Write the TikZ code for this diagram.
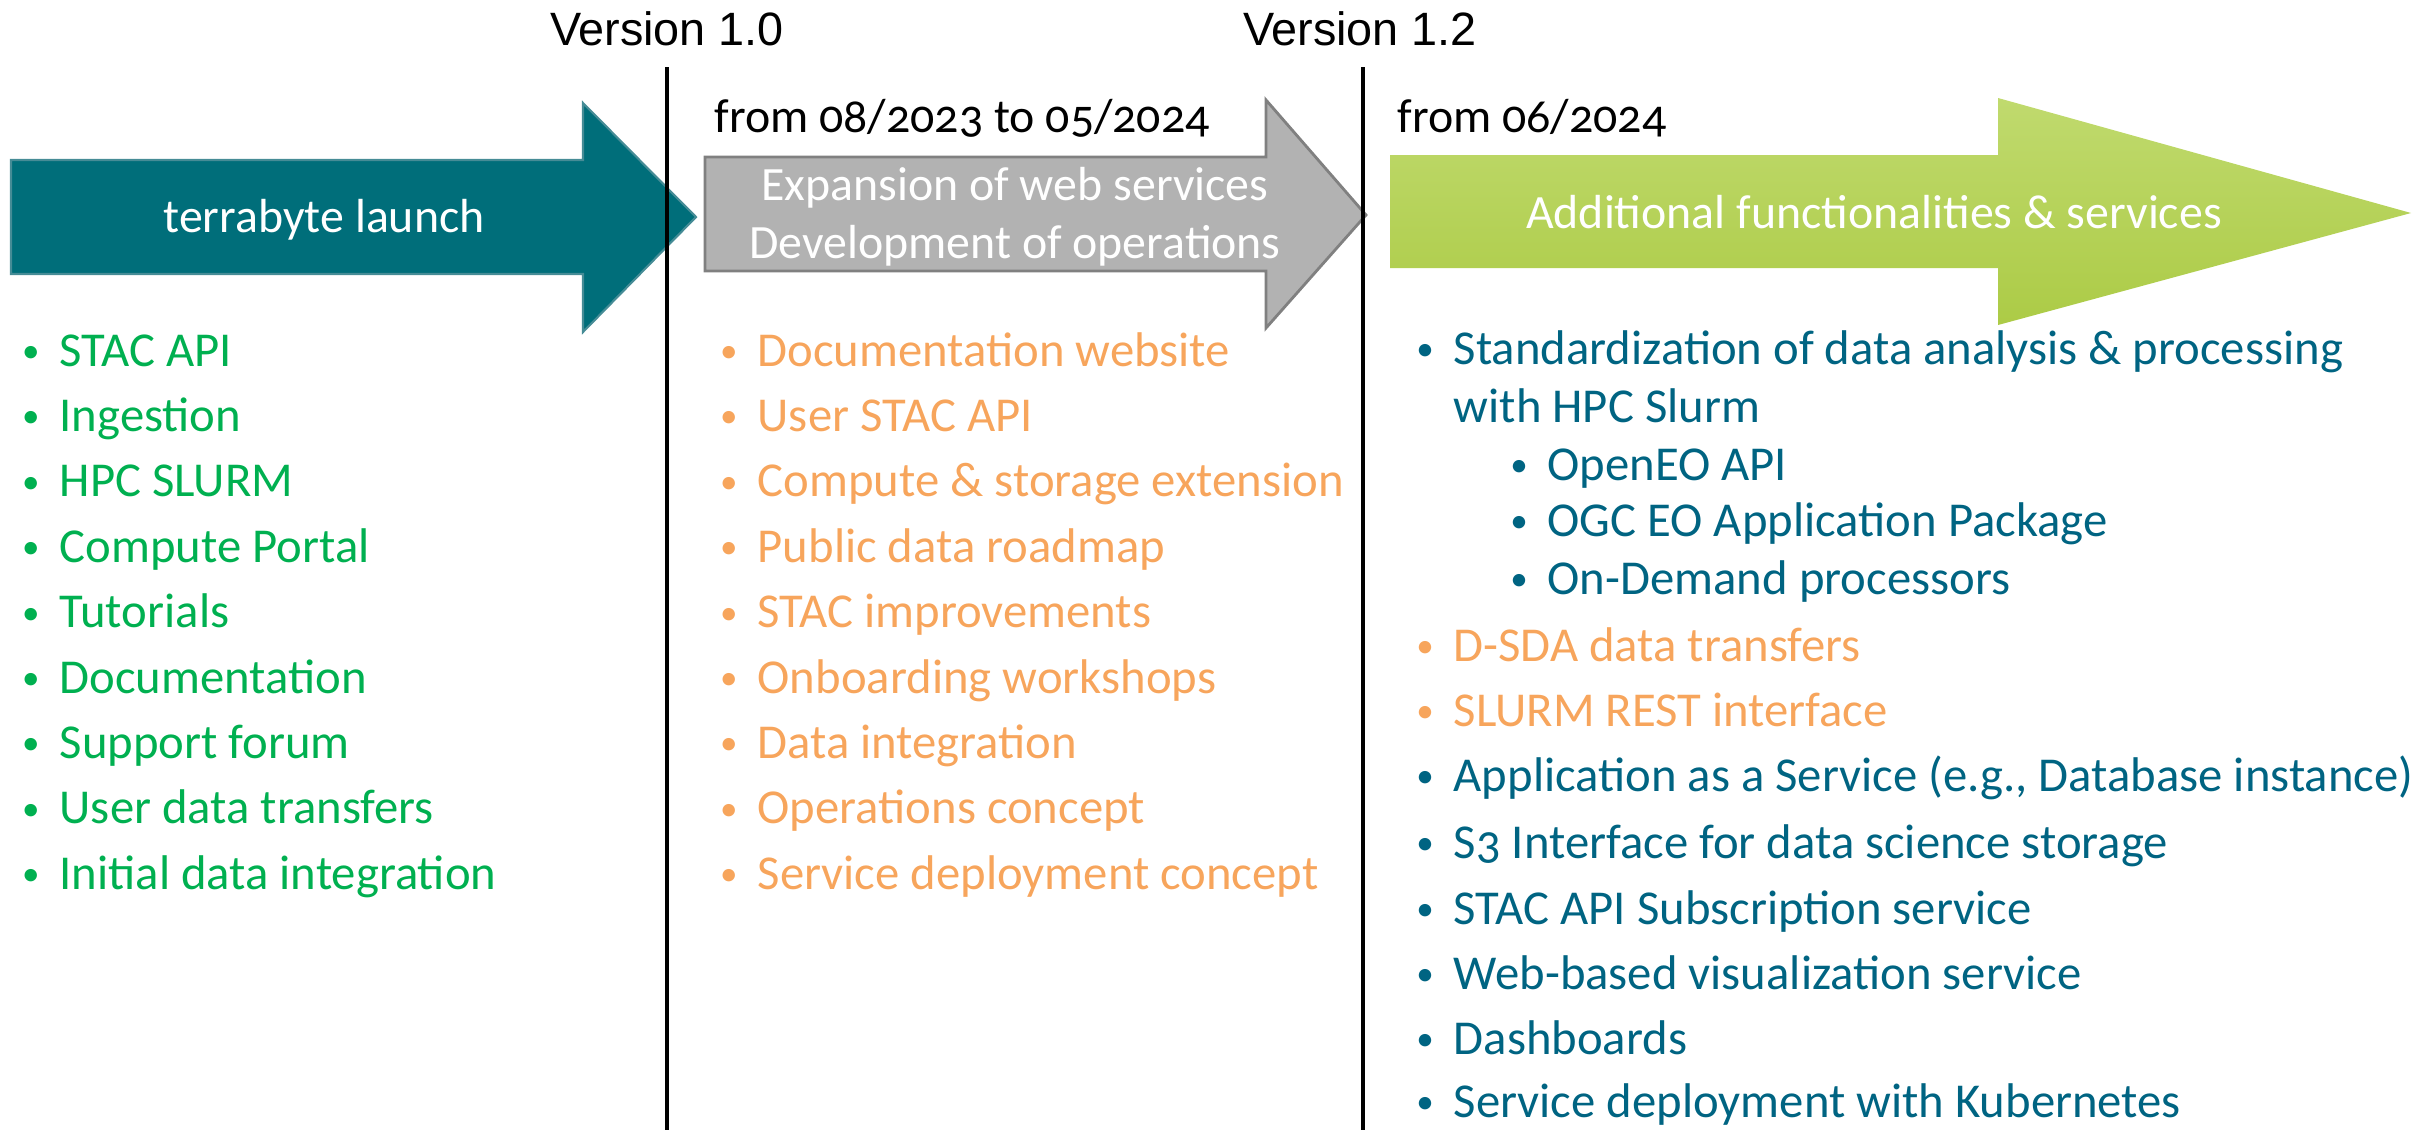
\documentclass[tikz,border=0pt]{standalone}
\usepackage{graphicx}
\usepackage{fontspec}
\setmainfont{Carlito}[Numbers=OldStyle]
\newfontfamily\versionfont{Liberation Sans}
\usetikzlibrary{positioning}

\definecolor{launchteal}{RGB}{0,110,122}
\definecolor{launchedge}{RGB}{70,140,150}
\definecolor{phasegray}{RGB}{178,178,178}
\definecolor{phaseedge}{RGB}{128,128,128}
\definecolor{greentop}{RGB}{192,218,110}
\definecolor{greenbottom}{RGB}{172,203,70}
\definecolor{donegreen}{RGB}{0,176,80}
\definecolor{busyorange}{RGB}{247,165,92}
\definecolor{plannedblue}{RGB}{0,100,130}

\tikzset{
  phase/.style={text=white, anchor=base, inner sep=0pt, font=\fontsize{13.6}{16}\selectfont},
  item/.style={anchor=base west, inner sep=0pt, font=\fontsize{13.85}{16}\selectfont},
  version/.style={anchor=base, inner sep=0pt, font=\versionfont\fontsize{13.3}{16}\selectfont},
  period/.style={anchor=base west, inner sep=0pt, font=\fontsize{13.6}{16}\selectfont},
  milestone/.style={line width=1.4pt, black}
}
\newcommand{\bul}{\llap{\raisebox{0.15ex}{\scalebox{0.72}{\textbullet}}\hspace{0.2cm}}}

\begin{document}
\begin{tikzpicture}[x=0.01cm, y=-0.01cm]
  \useasboundingbox (0,0) rectangle (2428,1130);

  % phase arrows
  \filldraw[fill=launchteal, draw=launchedge, line width=0.6pt]
    (11,160) -- (583,160) -- (583,103) -- (696,217) -- (583,332) -- (583,274) -- (11,274) -- cycle;
  \filldraw[fill=phasegray, draw=phaseedge, line width=0.8pt]
    (705,157) -- (1266,157) -- (1266,100) -- (1366,215) -- (1266,328) -- (1266,271) -- (705,271) -- cycle;
  \shade[top color=greentop, bottom color=greenbottom]
    (1390,155) -- (1998,155) -- (1998,98) -- (2411,213) -- (1998,325) -- (1998,268) -- (1390,268) -- cycle;

  \node[phase] (launch) at (324,232) {terrabyte launch};
  \node[phase] (expansion) at (1015,200) {Expansion of web services};
  \node[phase] (development) at (1015,258) {Development of operations};
  \node[phase] (additional) at (1874,228) {Additional functionalities \& services};

  % milestones
  \coordinate (v10top) at (667,67);
  \coordinate (v10bot) at (667,1130);
  \coordinate (v12top) at (1363,67);
  \coordinate (v12bot) at (1363,1130);
  \draw[milestone] (v10top) -- (v10bot);
  \draw[milestone] (v12top) -- (v12bot);
  \node[version] (v10) at (667,45) {Version 1.0};
  \node[version] (v12) at (1360,45) {Version 1.2};

  \node[period] (from1) at (714,132) {from 08/2023 to 05/2024};
  \node[period] (from2) at (1397,132) {from 06/2024};

  % lists
  \foreach \t [count=\i] in {STAC API, Ingestion, HPC SLURM, Compute Portal, Tutorials,
      Documentation, Support forum, User data transfers, Initial data integration}
    \node[item, text=donegreen] (done-\i) at (59,{366+65.4*(\i-1)}) {\bul\t};

  \foreach \t [count=\i] in {Documentation website, User STAC API, Compute \& storage extension,
      Public data roadmap, STAC improvements, Onboarding workshops, Data integration,
      Operations concept, Service deployment concept}
    \node[item, text=busyorange] (busy-\i) at (757,{366+65.4*(\i-1)}) {\bul\t};

  \foreach \y/\x/\c/\t [count=\i] in {
      364/1453/plannedblue/{\bul Standardization of data analysis \& processing},
      422/1453/plannedblue/{with HPC Slurm},
      480/1547/plannedblue/{\bul OpenEO API},
      536/1547/plannedblue/{\bul OGC EO Application Package},
      594/1547/plannedblue/{\bul On-Demand processors},
      661/1453/busyorange/{\bul D-SDA data transfers},
      726/1453/busyorange/{\bul SLURM REST interface},
      {791/1453/plannedblue/\bul Application as a Service (e.g., Database instance)},
      858/1453/plannedblue/{\bul S3 Interface for data science storage},
      924/1453/plannedblue/{\bul STAC API Subscription service},
      989/1453/plannedblue/{\bul Web-based visualization service},
      1054/1453/plannedblue/{\bul Dashboards},
      1117/1453/plannedblue/{\bul Service deployment with Kubernetes}}
    \node[item, text=\c] (next-\i) at (\x,\y) {\t};
\end{tikzpicture}
\end{document}
